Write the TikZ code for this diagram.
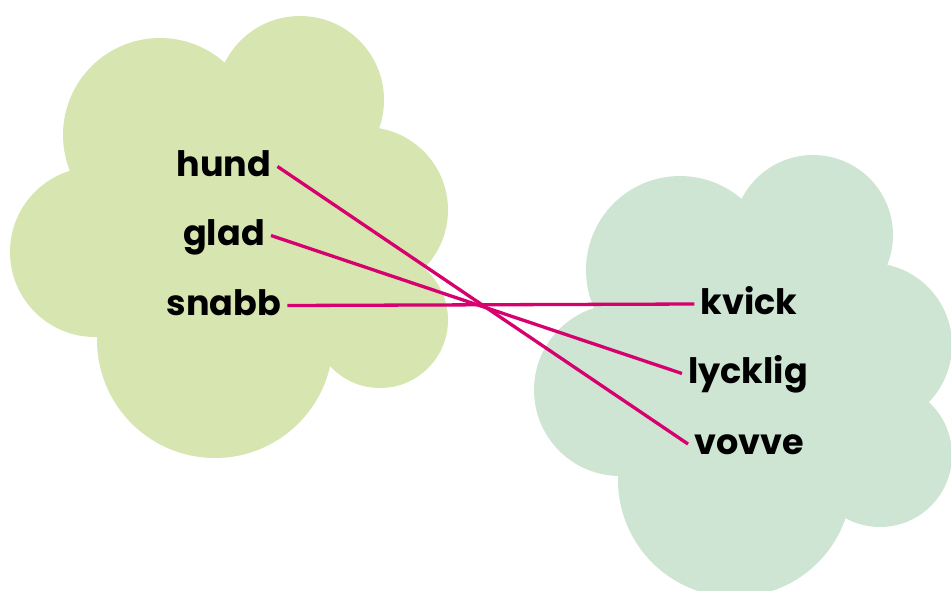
\documentclass[tikz,border=0pt]{standalone}
\usepackage{fontspec}
\setmainfont{Poppins}
\definecolor{leftcloud}{RGB}{215,229,177}
\definecolor{rightcloud}{RGB}{207,229,211}
\definecolor{linkcol}{RGB}{214,0,110}
\tikzset{
  word/.style={font=\fontsize{35}{40}\selectfont\bfseries, text=black, inner xsep=6pt, inner ysep=0pt, text height=0.75em+15pt, text depth=0.2em},
  link/.style={draw=linkcol, line width=3.3pt}
}
\begin{document}
\begin{tikzpicture}[x=1pt,y=-1pt]
\useasboundingbox (0,0) rectangle (951,590);
\begin{scope}
\clip (0,0) rectangle (951,590);
% left cloud
\fill[leftcloud] (300,100) circle (84) (160,135) circle (97) (365,210) circle (83)
  (380,320) circle (68) (215,340) circle (118) (95,252) circle (85) (240,240) circle (150);
% right cloud
\fill[rightcloud] (813,235) circle (80) (680,270) circle (94) (870,345) circle (82)
  (880,455) circle (72) (735,480) circle (117) (620,390) circle (86) (760,380) circle (140);
\end{scope}
\node[word] (hund) at (224,166.5) {hund};
\node[word] (glad) at (224,235.5) {glad};
\node[word] (snabb) at (224,305.5) {snabb};
\node[word] (kvick) at (749,304) {kvick};
\node[word] (lycklig) at (748,373.5) {lycklig};
\node[word] (vovve) at (749,444) {vovve};
\draw[link] (hund.east) -- (vovve.west);
\draw[link] (glad.east) -- (lycklig.west);
\draw[link] (snabb.east) -- (kvick.west);
\end{tikzpicture}
\end{document}
